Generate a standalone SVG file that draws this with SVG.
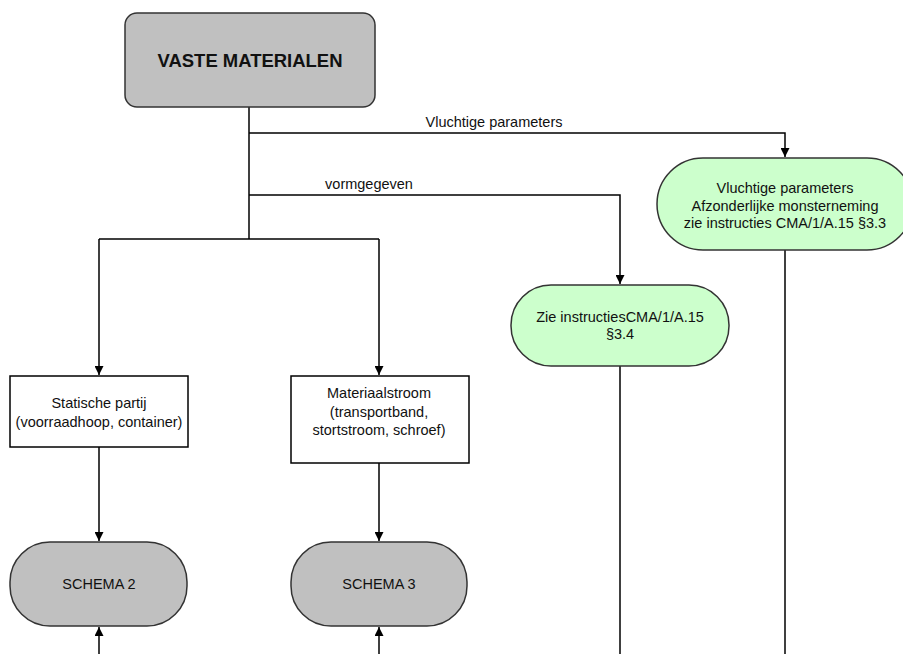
<svg xmlns="http://www.w3.org/2000/svg" width="903" height="654" viewBox="0 0 903 654">
<defs>
<marker id="arr" viewBox="0 0 10 10" refX="10" refY="5" markerWidth="9" markerHeight="9" markerUnits="userSpaceOnUse" orient="auto">
<path d="M0,0 L10,5 L0,10 z" fill="#000"/>
</marker>
</defs>
<style>
text{font-family:"Liberation Sans",Arial,sans-serif;font-size:14.5px;fill:#111;text-anchor:middle}
.grey{fill:#c0c0c0;stroke:#333;stroke-width:1.5}
.green{fill:#ccffcc;stroke:#333;stroke-width:1.5}
.white{fill:#fff;stroke:#000;stroke-width:1.5}
.conn{fill:none;stroke:#000;stroke-width:1.5}
.b{font-weight:bold;font-size:19px}
</style>
<rect width="903" height="654" fill="#fff"/>
<g id="connectors">
<path class="conn" d="M249,107 V239"/>
<path class="conn" d="M249,133 H785 V157" marker-end="url(#arr)"/>
<path class="conn" d="M249,195 H620 V284" marker-end="url(#arr)"/>
<path class="conn" d="M99,239 H379"/>
<path class="conn" d="M99,239 V375" marker-end="url(#arr)"/>
<path class="conn" d="M379,239 V375" marker-end="url(#arr)"/>
<path class="conn" d="M99,447 V541" marker-end="url(#arr)"/>
<path class="conn" d="M379,463 V541" marker-end="url(#arr)"/>
<path class="conn" d="M99,654 V627" marker-end="url(#arr)"/>
<path class="conn" d="M379,654 V627" marker-end="url(#arr)"/>
<path class="conn" d="M620,366 V654"/>
<path class="conn" d="M785,250 V654"/>
<text x="494" y="127">Vluchtige parameters</text>
<text x="369" y="189">vormgegeven</text>
</g>
<g id="vaste">
<rect class="grey" x="125" y="13" width="250" height="94" rx="12"/>
<text class="b" x="250" y="67" textLength="185" lengthAdjust="spacingAndGlyphs">VASTE MATERIALEN</text>
</g>
<g id="vluchtig">
<rect class="green" x="657" y="158" width="256" height="92" rx="46"/>
<text x="785" y="193">Vluchtige parameters</text>
<text x="785" y="211">Afzonderlijke monsterneming</text>
<text x="785" y="228">zie instructies CMA/1/A.15 §3.3</text>
</g>
<g id="vormgegeven">
<rect class="green" x="511" y="285" width="218" height="81" rx="40"/>
<text x="620" y="322">Zie instructiesCMA/1/A.15</text>
<text x="620" y="339">§3.4</text>
</g>
<g id="statische">
<rect class="white" x="10" y="376" width="178" height="71"/>
<text x="99" y="408">Statische partij</text>
<text x="99" y="427">(voorraadhoop, container)</text>
</g>
<g id="materiaal">
<rect class="white" x="291" y="376" width="178" height="87"/>
<text x="379" y="398">Materiaalstroom</text>
<text x="379" y="417">(transportband,</text>
<text x="379" y="435">stortstroom, schroef)</text>
</g>
<g id="schema2">
<rect class="grey" x="10" y="542" width="177" height="84" rx="40"/>
<text x="99" y="589">SCHEMA 2</text>
</g>
<g id="schema3">
<rect class="grey" x="291" y="542" width="176" height="84" rx="40"/>
<text x="379" y="589">SCHEMA 3</text>
</g>
</svg>
